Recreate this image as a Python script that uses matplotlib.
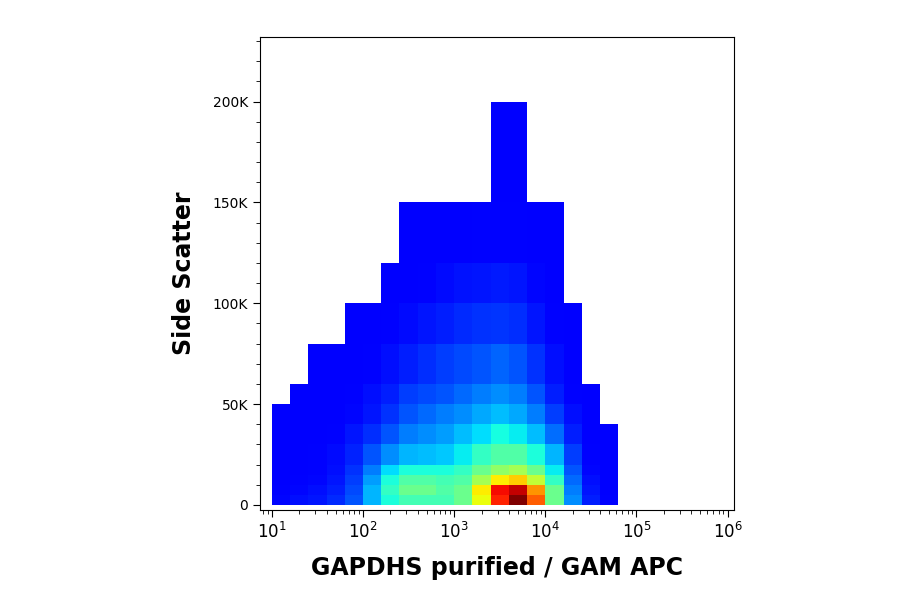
import numpy as np
import matplotlib
matplotlib.use("Agg")
import matplotlib.pyplot as plt
from matplotlib.colors import ListedColormap, PowerNorm
from matplotlib.ticker import FixedLocator, FuncFormatter

# bin edges: log10 of APC intensity, side scatter (K)
x_edges = np.arange(1.0, 5.01, 0.2)
y_edges = [0, 5, 10, 15, 20, 30, 40, 50, 60, 80, 100, 120, 150, 200]

# relative event density per bin (rows = side scatter bins, bottom first)
density = [
    [.06, .08, .10, .14, .22, .35, .45, .50, .50, .50, .55, .70, .90, 1.0, .85, .55, .30, .12, .04, 0],
    [.04, .06, .08, .12, .20, .35, .48, .55, .55, .52, .55, .72, .92, .95, .80, .55, .28, .10, .03, 0],
    [.02, .04, .06, .10, .18, .32, .45, .52, .52, .50, .52, .62, .72, .75, .65, .48, .25, .08, .02, 0],
    [.02, .03, .05, .08, .16, .28, .40, .45, .45, .45, .48, .55, .60, .62, .55, .42, .22, .06, .02, 0],
    [.01, .02, .04, .07, .13, .22, .30, .35, .36, .38, .42, .48, .52, .52, .45, .35, .18, .05, .01, 0],
    [.01, .02, .03, .05, .10, .15, .22, .28, .30, .32, .36, .40, .44, .42, .36, .26, .12, .03, .01, 0],
    [.01, .01, .02, .03, .06, .10, .16, .22, .25, .28, .30, .34, .36, .34, .28, .18, .08, .02, 0, 0],
    [0, .01, .01, .02, .04, .08, .12, .18, .20, .22, .25, .28, .30, .28, .22, .12, .05, .02, 0, 0],
    [0, 0, .01, .01, .02, .05, .08, .12, .15, .18, .20, .22, .24, .22, .16, .08, .03, 0, 0, 0],
    [0, 0, 0, 0, .01, .02, .04, .07, .10, .12, .14, .16, .17, .15, .10, .05, .02, 0, 0, 0],
    [0, 0, 0, 0, 0, 0, .01, .03, .05, .07, .09, .10, .11, .10, .06, .03, 0, 0, 0, 0],
    [0, 0, 0, 0, 0, 0, 0, .01, .01, .02, .03, .04, .05, .04, .02, .01, 0, 0, 0, 0],
    [0, 0, 0, 0, 0, 0, 0, 0, 0, 0, 0, 0, .01, .01, 0, 0, 0, 0, 0, 0],
]

x_ticks = [1, 2, 3, 4, 5, 6]
y_ticks = [0, 50, 100, 150, 200]
y_ticklabels = ["0", "50K", "100K", "150K", "200K"]

jet = plt.get_cmap("jet")
cmap = ListedColormap(jet(np.linspace(0.12, 1.0, 256)))
cmap.set_bad("white")

fig = plt.figure(figsize=(9, 5.94), dpi=100)
ax = fig.add_axes([260 / 900, 1 - 510 / 594, 474 / 900, 473 / 594])

z = np.ma.masked_equal(np.array(density), 0)
ax.pcolormesh(x_edges, y_edges, z, cmap=cmap, norm=PowerNorm(1.5, vmin=0, vmax=1))

ax.set_xlim(0.87, 6.07)
ax.set_ylim(-2.5, 232)

ax.xaxis.set_major_locator(FixedLocator(x_ticks))
ax.xaxis.set_major_formatter(FuncFormatter(lambda v, p: r"$10^{%d}$" % v))
minor = [d + np.log10(k) for d in range(0, 6) for k in range(2, 10)]
ax.xaxis.set_minor_locator(FixedLocator(minor))
ax.set_yticks(y_ticks)
ax.set_yticklabels(y_ticklabels)
ax.yaxis.set_minor_locator(FixedLocator(np.arange(0, 231, 10)))

ax.tick_params(which="major", length=5, labelsize=10, direction="out")
ax.tick_params(which="minor", length=3, direction="out")
for lab in ax.get_xticklabels():
    lab.set_fontsize(12)
for s in ax.spines.values():
    s.set_linewidth(0.8)

ax.set_xlabel("GAPDHS purified / GAM APC", fontsize=17, fontweight="bold", labelpad=10)
ax.set_ylabel("Side Scatter", fontsize=17, fontweight="bold", labelpad=12)

fig.savefig("out.png", dpi=100)
